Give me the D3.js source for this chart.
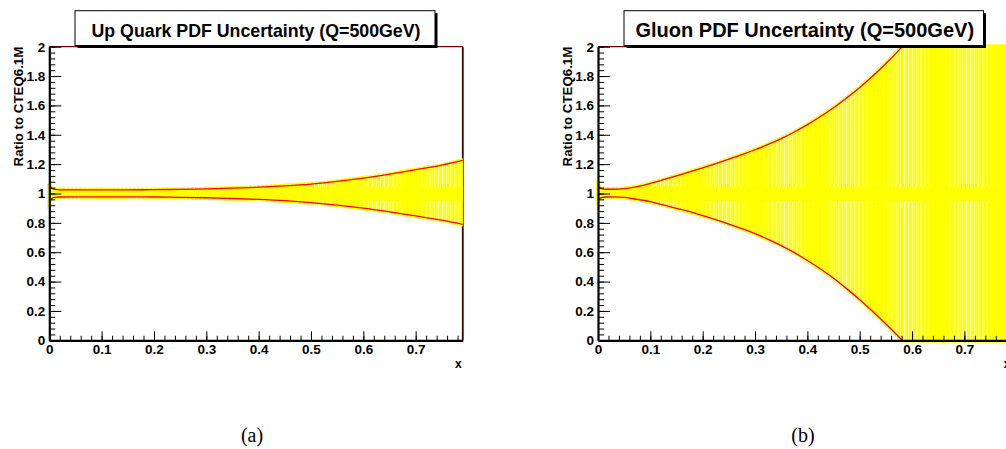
<!DOCTYPE html>
<html><head><meta charset="utf-8">
<script src="https://cdn.jsdelivr.net/npm/d3@7"></script>
<style>body{margin:0;background:#fff}svg{display:block}</style>
</head><body>
<svg id="c" width="1006" height="449"></svg>
<script>
// ---- data ----
const yTickValues = [0, 0.2, 0.4, 0.6, 0.8, 1, 1.2, 1.4, 1.6, 1.8, 2];
const yTickLabels = ["0", "0.2", "0.4", "0.6", "0.8", "1", "1.2", "1.4", "1.6", "1.8", "2"];
const xTickValues = [0, 0.1, 0.2, 0.3, 0.4, 0.5, 0.6, 0.7];
const xTickLabels = ["0", "0.1", "0.2", "0.3", "0.4", "0.5", "0.6", "0.7"];

const upX     = [0, 0.005, 0.01, 0.02, 0.05, 0.1, 0.15, 0.2, 0.25, 0.3, 0.35, 0.4, 0.45, 0.5, 0.55, 0.6, 0.65, 0.7, 0.75, 0.79];
const upUpper = [1.065, 1.035, 1.028, 1.025, 1.025, 1.025, 1.025, 1.026, 1.028, 1.031, 1.036, 1.043, 1.052, 1.064, 1.082, 1.105, 1.132, 1.162, 1.193, 1.225];
const upLower = [0.945, 0.968, 0.974, 0.976, 0.977, 0.977, 0.977, 0.976, 0.974, 0.971, 0.966, 0.960, 0.951, 0.938, 0.921, 0.900, 0.875, 0.847, 0.818, 0.790];

const gX     = [0, 0.005, 0.015, 0.03, 0.05, 0.075, 0.1, 0.125, 0.15, 0.175, 0.2, 0.225, 0.25, 0.275, 0.3, 0.325, 0.35, 0.375, 0.4, 0.425, 0.45, 0.475, 0.5, 0.525, 0.55, 0.575, 0.6, 0.65, 0.7, 0.75, 0.79];
const gUpper = [1.055, 1.035, 1.029, 1.029, 1.033, 1.047, 1.069, 1.094, 1.120, 1.147, 1.175, 1.204, 1.234, 1.265, 1.298, 1.334, 1.374, 1.419, 1.469, 1.524, 1.584, 1.650, 1.722, 1.800, 1.885, 1.977, 2.075, 2.28, 2.50, 2.74, 2.94];
const gLower = [0.955, 0.970, 0.976, 0.977, 0.974, 0.960, 0.944, 0.922, 0.899, 0.876, 0.850, 0.822, 0.792, 0.760, 0.726, 0.688, 0.645, 0.597, 0.544, 0.486, 0.423, 0.352, 0.276, 0.196, 0.111, 0.022, -0.07, -0.26, -0.46, -0.68, -0.86];

const titles = ["Up Quark PDF Uncertainty (Q=500GeV)", "Gluon PDF Uncertainty (Q=500GeV)"];
const captions = ["(a)", "(b)"];
const yTitle = "Ratio to CTEQ6.1M";
const xTitle = "x";

// ---- drawing ----
const svg = d3.select("#c");
const defs = svg.append("defs");
const FONT = "'Liberation Sans', Arial, Helvetica, sans-serif";

function panel(id, left, X, U, L, title, titleBox, titleW, caption, capX) {
  const xMax = 0.79;
  const x = d3.scaleLinear().domain([0, xMax]).range([left, left + 523.4 * xMax]);
  const y = d3.scaleLinear().domain([0, 2]).range([340.3, 46.7]);
  const g = svg.append("g");
  const binW = x(0.0079) - x(0);

  const pat = defs.append("pattern").attr("id", "pat" + id)
    .attr("patternUnits", "userSpaceOnUse")
    .attr("x", x(0)).attr("y", 0).attr("width", binW).attr("height", 10);
  pat.append("rect").attr("width", binW).attr("height", 10).attr("fill", "#ffff00");
  pat.append("rect").attr("width", 0.7).attr("height", 10).attr("fill", "#ffffff");

  defs.append("clipPath").attr("id", "clipBand" + id).append("rect")
    .attr("x", x(0) - 3).attr("y", y(2) - 2.5)
    .attr("width", x(xMax) - x(0) + 3).attr("height", y(0) - y(2) + 5);
  defs.append("clipPath").attr("id", "clipPlot" + id).append("rect")
    .attr("x", x(0) - 3).attr("y", y(2))
    .attr("width", x(xMax) - x(0) + 3).attr("height", y(0) - y(2));

  const pts = X.map((v, i) => ({ x: v, u: U[i], l: L[i] }));
  const area = d3.area().x(d => x(d.x)).y0(d => y(d.l)).y1(d => y(d.u)).curve(d3.curveMonotoneX);
  defs.append("clipPath").attr("id", "clipArea" + id).append("path").attr("d", area(pts));

  g.append("line").attr("x1", x(0)).attr("x2", x(xMax)).attr("y1", y(2)).attr("y2", y(2))
    .attr("stroke", "#700000").attr("stroke-width", 1.2);
  g.append("line").attr("x1", x(xMax)).attr("x2", x(xMax)).attr("y1", y(2)).attr("y2", y(0))
    .attr("stroke", "#400000").attr("stroke-width", 1.8);

  const band = g.append("g").attr("clip-path", `url(#clipBand${id})`);
  band.append("path").attr("d", area(pts))
    .attr("fill", `url(#pat${id})`).attr("stroke", `url(#pat${id})`).attr("stroke-width", 4.5);
  band.append("g").attr("clip-path", `url(#clipArea${id})`).append("rect")
    .attr("x", x(0) - 3).attr("width", x(xMax) - x(0) + 3)
    .attr("y", y(1.047)).attr("height", y(0.95) - y(1.047)).attr("fill", "#ffff00");

  const lines = g.append("g").attr("clip-path", `url(#clipPlot${id})`);
  const lu = d3.line().x(d => x(d.x)).y(d => y(d.u)).curve(d3.curveMonotoneX);
  const ll = d3.line().x(d => x(d.x)).y(d => y(d.l)).curve(d3.curveMonotoneX);
  lines.append("path").attr("d", lu(pts)).attr("fill", "none").attr("stroke", "#ff0000").attr("stroke-width", 1.3);
  lines.append("path").attr("d", ll(pts)).attr("fill", "none").attr("stroke", "#ff0000").attr("stroke-width", 1.3);

  const yMinor = d3.range(0, 51).map(i => i * 0.04);
  const xMinor = d3.range(0, 40).map(i => i * 0.02);
  g.append("g").attr("transform", `translate(${x(0)},0)`)
    .call(d3.axisLeft(y).tickValues(yMinor).tickSizeInner(-6).tickSizeOuter(0).tickFormat(""))
    .call(a => a.select(".domain").remove())
    .call(a => a.selectAll("line").attr("stroke", "#000").attr("stroke-width", 1));
  g.append("g").attr("transform", `translate(${x(0)},0)`)
    .call(d3.axisLeft(y).tickValues(yTickValues).tickSizeInner(-12).tickSizeOuter(0)
      .tickPadding(4).tickFormat((d, i) => yTickLabels[i]))
    .call(a => a.select(".domain").attr("stroke", "#000").attr("stroke-width", 2.2))
    .call(a => a.selectAll("line").attr("stroke", "#000").attr("stroke-width", 1))
    .call(a => a.selectAll("text").attr("font-family", FONT).attr("font-weight", "bold")
      .attr("font-size", 13.5).attr("fill", "#000"));
  g.append("g").attr("transform", `translate(0,${y(0)})`)
    .call(d3.axisBottom(x).tickValues(xMinor).tickSizeInner(-4.5).tickSizeOuter(0).tickFormat(""))
    .call(a => a.select(".domain").remove())
    .call(a => a.selectAll("line").attr("stroke", "#000").attr("stroke-width", 1));
  g.append("g").attr("transform", `translate(0,${y(0)})`)
    .call(d3.axisBottom(x).tickValues(xTickValues).tickSizeInner(-9).tickSizeOuter(0)
      .tickPadding(4).tickFormat((d, i) => xTickLabels[i]))
    .call(a => a.select(".domain").attr("stroke", "#000").attr("stroke-width", 2.2))
    .call(a => a.selectAll("line").attr("stroke", "#000").attr("stroke-width", 1))
    .call(a => a.selectAll("text").attr("font-family", FONT).attr("font-weight", "bold")
      .attr("font-size", 13.5).attr("fill", "#000"));

  g.append("text").attr("transform", `translate(${x(0) - 26.5},${y(2)}) rotate(-90)`)
    .attr("text-anchor", "end").attr("font-family", FONT).attr("font-weight", "bold")
    .attr("font-size", 13.3).text(yTitle);
  g.append("text").attr("x", x(xMax) - 1).attr("y", 368)
    .attr("text-anchor", "end").attr("font-family", FONT).attr("font-weight", "bold")
    .attr("font-size", 12).text(xTitle);

  const [bx, by, bw, bh] = titleBox;
  g.append("rect").attr("x", bx + 2.5).attr("y", by + 2.5).attr("width", bw).attr("height", bh).attr("fill", "#000");
  g.append("rect").attr("x", bx).attr("y", by).attr("width", bw).attr("height", bh)
    .attr("fill", "#fff").attr("stroke", "#000").attr("stroke-width", 1);
  const t = g.append("text").attr("x", bx + bw / 2 + 1).attr("y", 36.7).attr("text-anchor", "middle")
    .attr("font-family", FONT).attr("font-weight", "bold").attr("font-size", 16).text(title);
  const w = t.node().getComputedTextLength();
  t.attr("font-size", 16 * titleW / w);

  svg.append("text").attr("x", capX).attr("y", 442).attr("text-anchor", "middle")
    .attr("font-family", "'Liberation Serif', 'DejaVu Serif', serif").attr("font-size", 20).text(caption);
}

panel(0, 49.3, upX, upUpper, upLower, titles[0], [75, 10.7, 360, 34.8], 329, captions[0], 252);
panel(1, 598, gX, gUpper, gLower, titles[1], [624, 10.7, 359.5, 34.8], 339, captions[1], 803);
</script>
</body></html>
